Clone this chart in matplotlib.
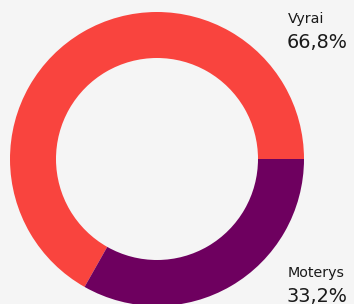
import matplotlib
matplotlib.use("Agg")
import matplotlib.pyplot as plt

labels = ["Vyrai", "Moterys"]
values = [66.8, 33.2]
value_labels = ["66,8%", "33,2%"]
colors = ["#F9443E", "#6E005F"]

W, H = 354, 304
fig = plt.figure(figsize=(W / 100, H / 100), dpi=100)
fig.patch.set_facecolor("#F5F5F5")
ax = fig.add_axes([0, 0, 1, 1])
ax.set_facecolor("#F5F5F5")

cx, cy = 157, H - 159
ax.pie(values, colors=colors, startangle=0, counterclock=True,
       center=(cx, cy), radius=147,
       wedgeprops=dict(width=46, linewidth=0), frame=True)
ax.set_xlim(0, W)
ax.set_ylim(0, H)
ax.set_aspect("equal")
ax.axis("off")

fam = ["DejaVu Sans"]
label_y = [H - 23, H - 277]
value_y = [H - 48, H - 302]
for lab, vl, ly, vy in zip(labels, value_labels, label_y, value_y):
    ax.text(288, ly, lab, fontsize=10.3, color="#1a1a1a", family=fam,
            ha="left", va="baseline")
    ax.text(287, vy, vl, fontsize=13.9, color="#1a1a1a", family=fam,
            ha="left", va="baseline")

fig.savefig("out.png", dpi=100, facecolor=fig.get_facecolor())
